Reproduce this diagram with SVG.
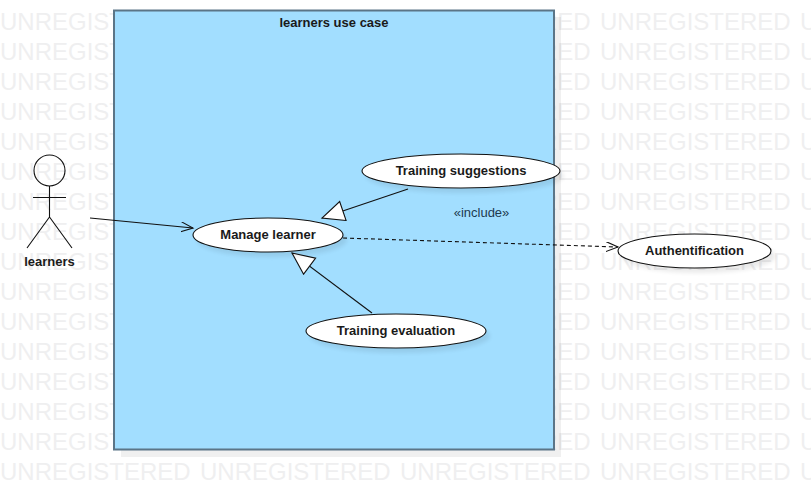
<svg xmlns="http://www.w3.org/2000/svg" xmlns:xlink="http://www.w3.org/1999/xlink" width="811" height="490" viewBox="0 0 811 490">
<style>
text{font-family:"Liberation Sans",Arial,sans-serif}
.wm{font-size:24px;fill:#efeff0}
.lbl{font-size:13px;font-weight:bold;fill:#1a1a1a;text-anchor:middle}
.uc{fill:#fff;stroke:#111;stroke-width:1.1}
.sh{fill:#000;opacity:.08;filter:url(#blur)}
.ln{fill:none;stroke:#111;stroke-width:1.1}
</style>
<defs>
<filter id="blur" x="-20%" y="-40%" width="140%" height="180%"><feGaussianBlur stdDeviation="2"/></filter>
<g id="wmrow" class="wm">
<text x="0" y="0">UNREGISTERED</text><text x="200" y="0">UNREGISTERED</text><text x="400" y="0">UNREGISTERED</text><text x="600" y="0">UNREGISTERED</text><text x="800" y="0">UNREGISTERED</text>
</g>
<marker id="open" markerWidth="14" markerHeight="12" refX="12" refY="5" orient="auto" markerUnits="userSpaceOnUse"><path d="M0 0L12 5L0 10" fill="none" stroke="#111" stroke-width="1.1"/></marker>
<marker id="tri" markerWidth="26" markerHeight="24" refX="23" refY="11" orient="auto" markerUnits="userSpaceOnUse"><path d="M1 1L23 11L1 21Z" fill="#fff" stroke="#111" stroke-width="1.1"/></marker>
</defs>
<rect width="811" height="490" fill="#fff"/>
<g id="watermark">
<use href="#wmrow" y="30"/><use href="#wmrow" y="60"/><use href="#wmrow" y="90"/><use href="#wmrow" y="120"/><use href="#wmrow" y="150"/><use href="#wmrow" y="180"/><use href="#wmrow" y="210"/><use href="#wmrow" y="240"/><use href="#wmrow" y="270"/><use href="#wmrow" y="300"/><use href="#wmrow" y="330"/><use href="#wmrow" y="360"/><use href="#wmrow" y="390"/><use href="#wmrow" y="420"/><use href="#wmrow" y="450"/><use href="#wmrow" y="480"/>
</g>
<g id="system">
<rect x="121" y="17" width="440" height="440" fill="#000" opacity=".06"/>
<rect x="114" y="10.500" width="440" height="439" fill="#a2deff" stroke="#5b7587" stroke-width="2"/>
<text class="lbl" x="334" y="27">learners use case</text>
</g>
<g id="connectors">
<path class="ln" d="M90 218L193 228" marker-end="url(#open)"/>
<path class="ln" d="M408 189L322 218" marker-end="url(#tri)"/>
<path class="ln" d="M372 313L292 253" marker-end="url(#tri)"/>
<path class="ln" d="M343 238L618 247" stroke-dasharray="4 3" marker-end="url(#open)"/>
<text x="481.500" y="217" font-size="13" fill="#1d3a50" text-anchor="middle">«include»</text>
</g>
<g id="actor-learners">
<circle class="ln" cx="49.500" cy="170.500" r="15.500"/>
<path class="ln" d="M49.500 186V217M33 197.500H66M49.500 217L27 248M49.500 217L72 248"/>
<text class="lbl" x="49.500" y="266">learners</text>
</g>
<g id="uc-manage">
<ellipse class="sh" cx="272" cy="240" rx="75" ry="17"/>
<ellipse class="uc" cx="268" cy="235" rx="75" ry="17"/>
<text class="lbl" x="268" y="239">Manage learner</text>
</g>
<g id="uc-suggestions">
<ellipse class="sh" cx="465" cy="176" rx="99" ry="17"/>
<ellipse class="uc" cx="461" cy="171" rx="99" ry="17"/>
<text class="lbl" x="461" y="175">Training suggestions</text>
</g>
<g id="uc-evaluation">
<ellipse class="sh" cx="400" cy="336" rx="90" ry="17"/>
<ellipse class="uc" cx="396" cy="331" rx="90" ry="17"/>
<text class="lbl" x="396" y="335">Training evaluation</text>
</g>
<g id="uc-auth">
<ellipse class="sh" cx="699" cy="256" rx="76.500" ry="17"/>
<ellipse class="uc" cx="694.500" cy="251" rx="76.500" ry="17"/>
<text class="lbl" x="694.500" y="255">Authentification</text>
</g>
</svg>
